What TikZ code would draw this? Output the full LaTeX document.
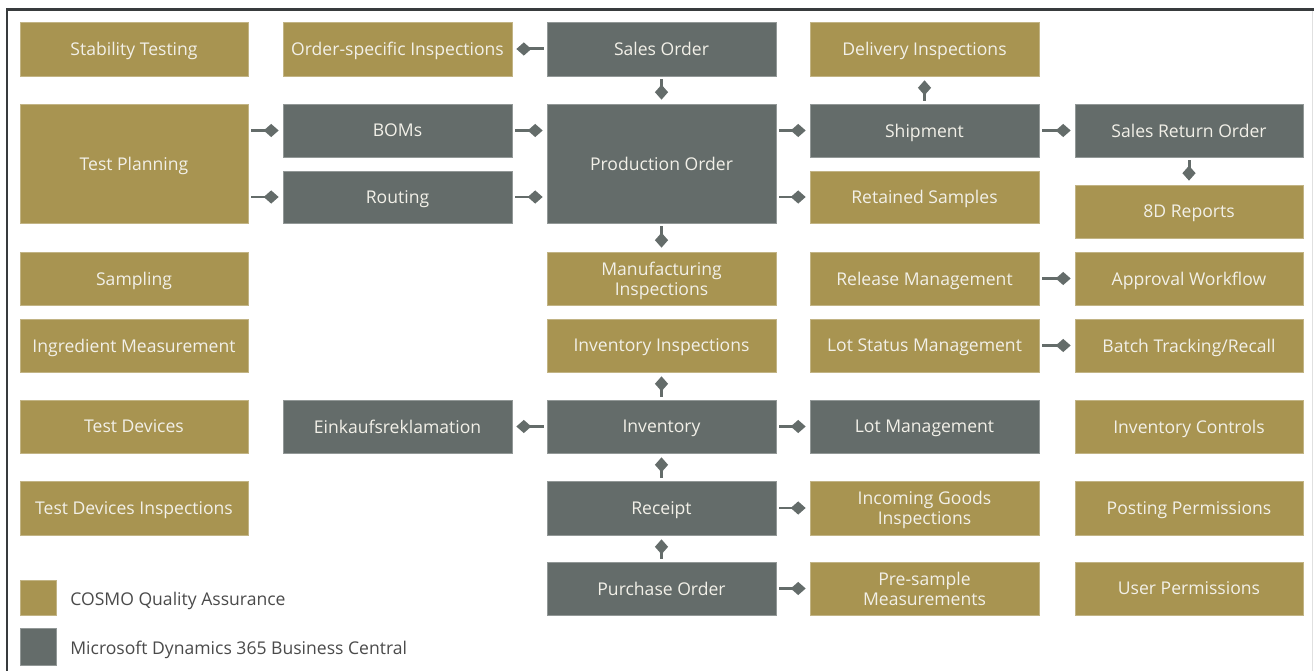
\documentclass[tikz,border=0pt]{standalone}
\usepackage{fontspec}
\setmainfont{Open Sans}
\usetikzlibrary{arrows.meta}
\definecolor{cgold}{HTML}{A89451}
\definecolor{cgray}{HTML}{646C6A}
\definecolor{ctext}{HTML}{F2F0E8}
\definecolor{clegend}{HTML}{4A4A4A}
\definecolor{cframe}{HTML}{383B3D}
\tikzset{
  boxbase/.style={inner sep=0pt, text=ctext, align=center, text depth=0pt, font=\fontsize{10}{11.5}\selectfont, line width=0.4pt},
  goldbox/.style={boxbase, fill=cgold, draw=cgold!70!white},
  graybox/.style={boxbase, fill=cgray, draw=cgray!70!white},
  conn/.style={draw=cgray, line width=1.7pt, -{Turned Square[length=8.5pt,width=7.5pt]}, shorten <=0.06cm, shorten >=0.08cm},
  legtext/.style={anchor=west, inner sep=0pt, text depth=0pt, text=clegend, font=\fontsize{10}{12}\selectfont}
}
\newcommand\bx[7]{\node[#2, minimum width={(#5-#3)*0.02cm}, minimum height={(#6-#4)*0.02cm}] (#1) at ({(#3+#5)/2},{(#4+#6)/2}) {#7};}
\begin{document}
\begin{tikzpicture}[x=0.02cm,y=-0.02cm]
\useasboundingbox (0,0) rectangle (1314,671);
% frame
\draw[cframe, line width=1.7pt] (7,671) -- (7,9.5) -- (1314,9.5);
\draw[black!12, line width=0.6pt] (1312.5,11) -- (1312.5,671);
% column 1
\bx{st}{goldbox}{20}{22}{248}{76}{Stability Testing}
\bx{tp}{goldbox}{20}{104}{248}{223}{Test Planning}
\bx{sa}{goldbox}{20}{252}{248}{305}{Sampling}
\bx{im}{goldbox}{20}{319}{248}{372}{Ingredient Measurement}
\bx{td}{goldbox}{20}{400}{248}{453}{Test Devices}
\bx{tdi}{goldbox}{20}{481}{248}{535}{Test Devices Inspections}
% column 2
\bx{osi}{goldbox}{283}{22}{512}{76}{Order-specific Inspections}
\bx{bom}{graybox}{283}{104}{512}{157}{BOMs}
\bx{rt}{graybox}{283}{171}{512}{223}{Routing}
\bx{ek}{graybox}{283}{400}{512}{453}{Einkaufsreklamation}
% column 3
\bx{so}{graybox}{547}{22}{776}{76}{Sales Order}
\bx{po}{graybox}{547}{104}{776}{223}{Production Order}
\bx{mi}{goldbox}{547}{252}{776}{305}{Manufacturing\\Inspections}
\bx{ii}{goldbox}{547}{319}{776}{372}{Inventory Inspections}
\bx{inv}{graybox}{547}{400}{776}{453}{Inventory}
\bx{rc}{graybox}{547}{481}{776}{535}{Receipt}
\bx{pu}{graybox}{547}{562}{776}{615}{Purchase Order}
% column 4
\bx{di}{goldbox}{810}{22}{1039}{76}{Delivery Inspections}
\bx{sh}{graybox}{810}{104}{1039}{157}{Shipment}
\bx{rs}{goldbox}{810}{171}{1039}{223}{Retained Samples}
\bx{rm}{goldbox}{810}{252}{1039}{305}{Release Management}
\bx{lsm}{goldbox}{810}{319}{1039}{372}{Lot Status Management}
\bx{lm}{graybox}{810}{400}{1039}{453}{Lot Management}
\bx{igi}{goldbox}{810}{481}{1039}{535}{Incoming Goods\\Inspections}
\bx{psm}{goldbox}{810}{562}{1039}{615}{Pre-sample\\Measurements}
% column 5
\bx{sro}{graybox}{1075}{104}{1303}{157}{Sales Return Order}
\bx{d8}{goldbox}{1075}{185}{1303}{238}{8D Reports}
\bx{aw}{goldbox}{1075}{252}{1303}{305}{Approval Workflow}
\bx{bt}{goldbox}{1075}{319}{1303}{372}{Batch Tracking/Recall}
\bx{ic}{goldbox}{1075}{400}{1303}{453}{Inventory Controls}
\bx{pp}{goldbox}{1075}{481}{1303}{535}{Posting Permissions}
\bx{up}{goldbox}{1075}{562}{1303}{615}{User Permissions}
% legend
\bx{lg}{goldbox}{20}{580}{56}{615}{}
\bx{lgr}{graybox}{20}{628}{56}{665}{}
\node[legtext] (lgt) at (70,599) {COSMO Quality Assurance};
\node[legtext] (lgrt) at (70,648) {Microsoft Dynamics 365 Business Central};
% connectors
\draw[conn] (so.west) -- (osi.east);
\draw[conn] (so.south) -- (po.north);
\draw[conn] (sh.north) -- (di.south);
\draw[conn] (tp.east |- bom) -- (bom.west);
\draw[conn] (tp.east |- rt) -- (rt.west);
\draw[conn] (bom.east) -- (bom -| po.west);
\draw[conn] (rt.east) -- (rt -| po.west);
\draw[conn] (po.east |- sh) -- (sh.west);
\draw[conn] (po.east |- rs) -- (rs.west);
\draw[conn] (sh.east) -- (sro.west);
\draw[conn] (sro.south) -- (d8.north);
\draw[conn] (po.south) -- (mi.north);
\draw[conn] (rm.east) -- (aw.west);
\draw[conn] (lsm.east) -- (bt.west);
\draw[conn] (inv.north) -- (ii.south);
\draw[conn] (inv.west) -- (ek.east);
\draw[conn] (inv.east) -- (lm.west);
\draw[conn] (rc.north) -- (inv.south);
\draw[conn] (rc.east) -- (igi.west);
\draw[conn] (pu.north) -- (rc.south);
\draw[conn] (pu.east) -- (psm.west);
\end{tikzpicture}
\end{document}
